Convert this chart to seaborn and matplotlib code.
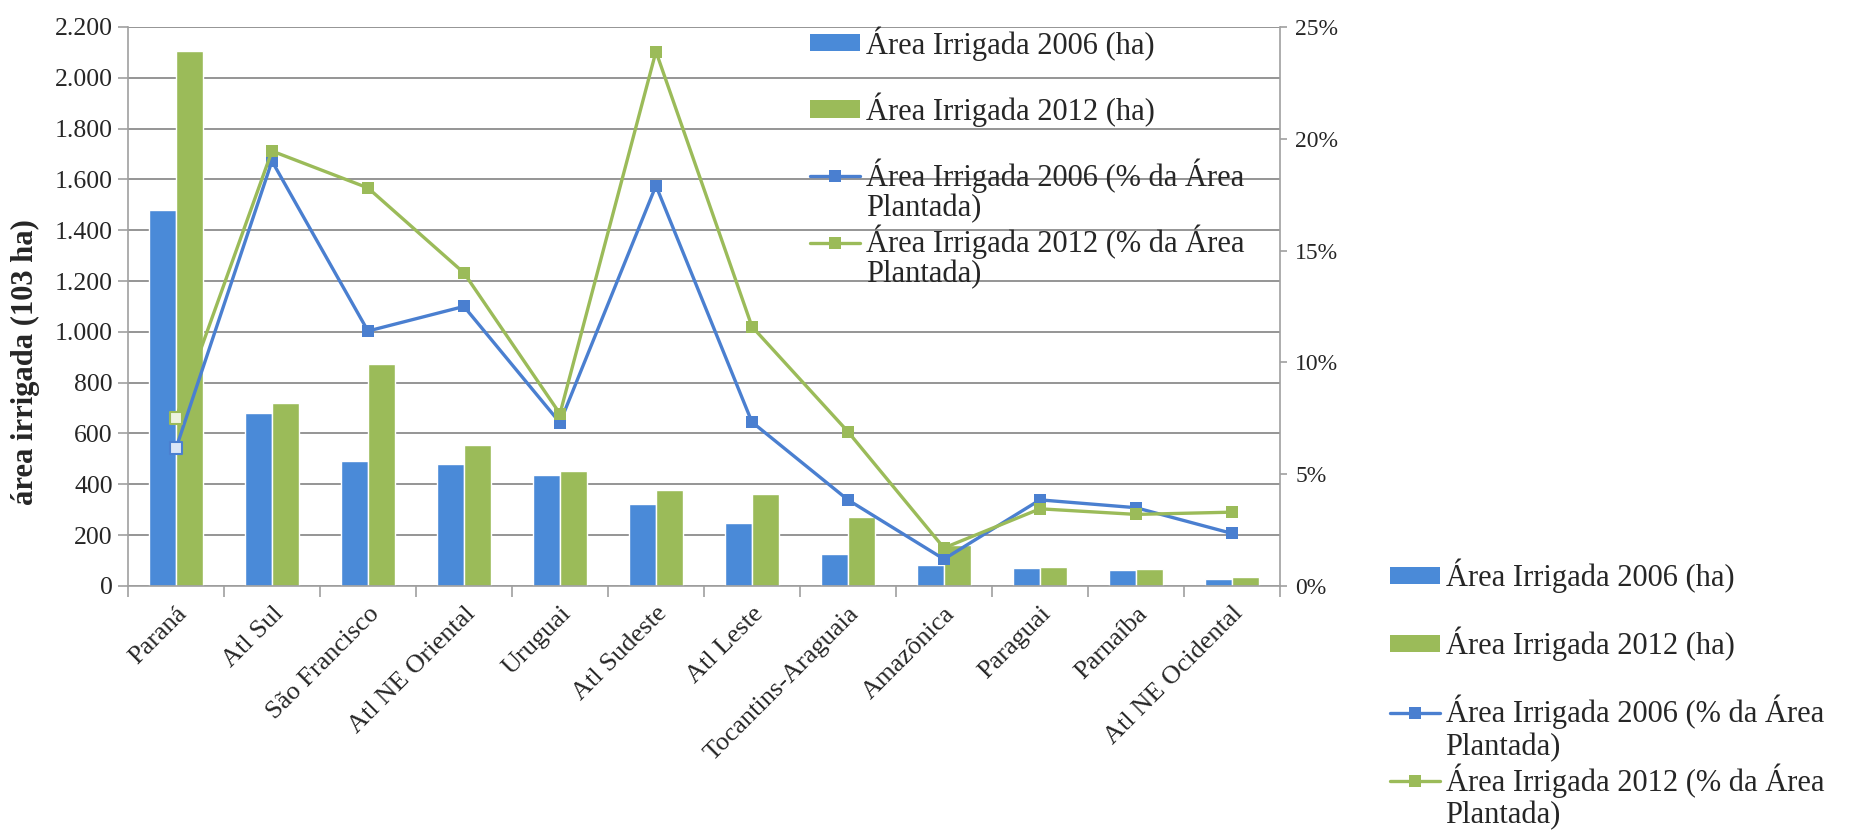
import numpy as np
import pandas as pd
import matplotlib
matplotlib.use("Agg")
import matplotlib.pyplot as plt
import matplotlib.transforms as mtransforms
import seaborn as sns
from matplotlib.lines import Line2D
from matplotlib.patches import Patch

# ---------------- data ----------------
bacias = ["Paraná", "Atl Sul", "São Francisco", "Atl NE Oriental", "Uruguai",
          "Atl Sudeste", "Atl Leste", "Tocantins-Araguaia", "Amazônica",
          "Paraguai", "Parnaíba", "Atl NE Ocidental"]
area_2006 = [1478, 682, 492, 478, 436, 324, 246, 124, 84, 69, 61, 28]
area_2012 = [2105, 720, 872, 554, 453, 378, 360, 273, 160, 75, 67, 37]
pct_2006 = [6.15, 19.0, 11.4, 12.5, 7.3, 17.9, 7.33, 3.85, 1.2, 3.85, 3.5, 2.35]
pct_2012 = [7.5, 19.45, 17.8, 14.0, 7.7, 23.9, 11.6, 6.9, 1.7, 3.45, 3.2, 3.3]

left_ticks = [0, 200, 400, 600, 800, 1000, 1200, 1400, 1600, 1800, 2000, 2200]
left_ticklabels = ["0", "200", "400", "600", "800", "1.000", "1.200", "1.400",
                   "1.600", "1.800", "2.000", "2.200"]
right_ticks = [0, 5, 10, 15, 20, 25]
right_ticklabels = ["0%", "5%", "10%", "15%", "20%", "25%"]

series_labels = ["Área Irrigada 2006 (ha)", "Área Irrigada 2012 (ha)",
                 "Área Irrigada 2006 (% da Área", "Área Irrigada 2012 (% da Área"]
label_continuation = "Plantada)"
y_label = "área irrigada (103 ha)"

# ---------------- style ----------------
BAR_BLUE = "#4a8ad8"
BAR_GREEN = "#9bbb59"
LINE_BLUE = "#4a7fd0"
LINE_GREEN = "#9bbb59"
GRID = "#8c8c8c"
AXIS = "#a0a0a0"
LEG_FS = 22

sns.set_theme(style="white")
plt.rcParams["font.family"] = ["Liberation Serif", "DejaVu Serif"]

fig = plt.figure(figsize=(18.52, 8.39), dpi=100)
ax = fig.add_axes([0.0691, 0.3016, 0.622, 0.6663])

df = pd.DataFrame({
    "bacia": bacias * 2,
    "area": area_2006 + area_2012,
    "serie": [series_labels[0]] * len(bacias) + [series_labels[1]] * len(bacias),
})
sns.barplot(data=df, x="bacia", y="area", hue="serie",
            palette=[BAR_BLUE, BAR_GREEN], width=0.56, gap=0, saturation=1,
            ax=ax, legend=False)

ax.set_ylim(0, 2200)
ax.set_xlim(-0.5, len(bacias) - 0.5)
ax.set_yticks(left_ticks)
ax.set_yticklabels(left_ticklabels, fontsize=18.5)
ax.set_xticks(np.arange(len(bacias)))
ax.set_xticklabels(bacias, rotation=45, ha="right", rotation_mode="anchor", fontsize=19)
shift = mtransforms.ScaledTranslation(-8 / 100, 0, fig.dpi_scale_trans)
for lab in ax.get_xticklabels():
    lab.set_transform(lab.get_transform() + shift)
ax.set_xticks(np.arange(len(bacias) + 1) - 0.5, minor=True)
ax.tick_params(axis="x", which="major", length=0, pad=12)
ax.tick_params(axis="x", which="minor", bottom=True, length=8, color=AXIS, width=1.2)
ax.tick_params(axis="y", left=True, length=7, color=AXIS, width=1.2, pad=4)
ax.set_xlabel("")
ax.set_ylabel(y_label, fontsize=22, fontweight="bold")
ax.yaxis.set_label_coords(-0.076, 0.40)
ax.yaxis.grid(True, color=GRID, lw=1.3)
ax.set_axisbelow(True)
for s in ["top", "right"]:
    ax.spines[s].set_visible(False)
for s in ["left", "bottom"]:
    ax.spines[s].set_color(AXIS)
    ax.spines[s].set_linewidth(1.2)

# ---------------- lines on secondary axis ----------------
ax2 = ax.twinx()
xpos = np.arange(len(bacias))
sns.lineplot(x=xpos, y=pct_2006, ax=ax2, color=LINE_BLUE, lw=2.4, marker="s",
             markersize=8, markeredgewidth=0, markerfacecolor=LINE_BLUE)
sns.lineplot(x=xpos, y=pct_2012, ax=ax2, color=LINE_GREEN, lw=2.4, marker="s",
             markersize=8, markeredgewidth=0, markerfacecolor=LINE_GREEN)
# Paraná markers appear hollow in the reference
sns.scatterplot(x=xpos[:1], y=pct_2006[:1], ax=ax2, marker="s", s=70,
                facecolor="#dbe6f7", edgecolor=LINE_BLUE, linewidth=1.5, zorder=5)
sns.scatterplot(x=xpos[:1], y=pct_2012[:1], ax=ax2, marker="s", s=70,
                facecolor="#eef3df", edgecolor=LINE_GREEN, linewidth=1.5, zorder=5)

ax2.set_ylim(0, 25)
ax2.set_yticks(right_ticks)
ax2.set_yticklabels(right_ticklabels, fontsize=17)
ax2.tick_params(axis="y", right=True, length=5, color=AXIS, width=1.2, pad=6)
ax2.grid(False)
for s in ["top", "left", "bottom"]:
    ax2.spines[s].set_visible(False)
ax2.spines["right"].set_color(AXIS)
ax2.spines["right"].set_linewidth(1.2)
ax2.set_ylabel("")

# ---------------- legends ----------------
def make_handles():
    return [Patch(facecolor=BAR_BLUE, edgecolor="none"),
            Patch(facecolor=BAR_GREEN, edgecolor="none"),
            Line2D([], [], color=LINE_BLUE, lw=2.4, marker="s", markersize=8, markeredgewidth=0),
            Line2D([], [], color=LINE_GREEN, lw=2.4, marker="s", markersize=8, markeredgewidth=0)]

leg_kw = dict(frameon=False, fontsize=LEG_FS, handlelength=1.65, handleheight=0.5,
              handletextpad=0.17, borderpad=0, borderaxespad=0, loc="upper left")
leg1 = fig.legend(make_handles(), series_labels, bbox_to_anchor=(0.4374, 0.969),
                  labelspacing=1.04, **leg_kw)
leg2 = fig.legend(make_handles(), series_labels, bbox_to_anchor=(0.7505, 0.334),
                  labelspacing=1.1, **leg_kw)

# second line of the two-line legend labels, hung below the first line
fig.canvas.draw()
inv = fig.transFigure.inverted()
for leg, gap_px in ((leg1, 30), (leg2, 33)):
    for t in leg.get_texts()[2:]:
        bb = t.get_window_extent()
        x0, y0 = inv.transform((bb.x0, bb.y0 - gap_px))
        fig.text(x0, y0, label_continuation, ha="left", va="bottom", fontsize=LEG_FS)

fig.savefig("out.png", dpi=100, facecolor="white")
